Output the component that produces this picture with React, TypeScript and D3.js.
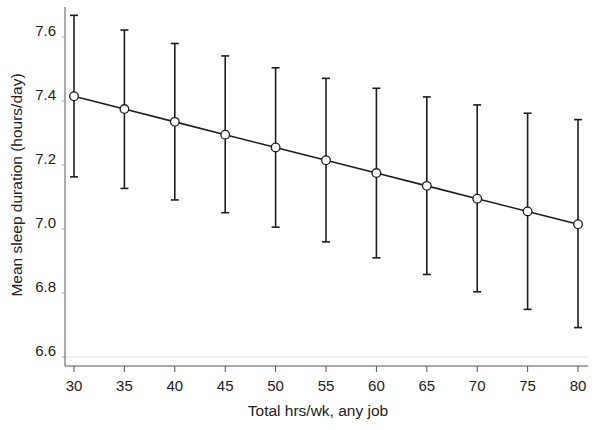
import React from "react";
import * as d3 from "d3";

const hours = [30, 35, 40, 45, 50, 55, 60, 65, 70, 75, 80];
const meanSleep = [7.415, 7.375, 7.335, 7.295, 7.255, 7.215, 7.175, 7.135, 7.095, 7.055, 7.015];
const ciLower = [7.163, 7.127, 7.091, 7.051, 7.006, 6.960, 6.910, 6.858, 6.804, 6.749, 6.692];
const ciUpper = [7.668, 7.622, 7.580, 7.541, 7.504, 7.471, 7.440, 7.413, 7.388, 7.362, 7.342];
const yTicks = [6.6, 6.8, 7.0, 7.2, 7.4, 7.6];
const xTicks = [30, 35, 40, 45, 50, 55, 60, 65, 70, 75, 80];

const W = 601;
const H = 430;

export default function App() {
  const x = d3.scaleLinear().domain([29.107, 80.99]).range([65, 588]);
  const y = d3.scaleLinear().domain([6.572, 7.694]).range([366, 7]);
  const pts = hours.map((h, i) => ({ h, m: meanSleep[i], lo: ciLower[i], hi: ciUpper[i] }));
  const line = d3
    .line<{ h: number; m: number }>()
    .x((d) => x(d.h))
    .y((d) => y(d.m));
  const font = "'Liberation Sans', Arial, sans-serif";
  const ink = "#1e1e1e";
  return (
    <svg
      width={W}
      height={H}
      style={{ position: "absolute", left: 0, top: 0, background: "#fff" }}
      fontFamily={font}
    >
      <rect x={0} y={0} width={W} height={H} fill="#fff" />
      <line x1={65} x2={588} y1={y(6.6)} y2={y(6.6)} stroke="#e4e4e4" strokeWidth={1} />
      <line x1={65} x2={65} y1={7} y2={366} stroke="#555" strokeWidth={1} />
      <line x1={65} x2={588} y1={366} y2={366} stroke="#555" strokeWidth={1} />
      {yTicks.map((t) => (
        <g key={"y" + t}>
          <line x1={62} x2={65} y1={y(t)} y2={y(t)} stroke="#aaa" strokeWidth={1} />
          <text x={56} y={y(t)} dy="-0.05em" textAnchor="end" fontSize={15} fill="#222">
            {t.toFixed(1)}
          </text>
        </g>
      ))}
      {xTicks.map((t) => (
        <g key={"x" + t}>
          <line x1={x(t)} x2={x(t)} y1={366} y2={372} stroke="#555" strokeWidth={1} />
          <text x={x(t)} y={391} textAnchor="middle" fontSize={15} fill="#222">
            {t}
          </text>
        </g>
      ))}
      <text x={318} y={416} textAnchor="middle" fontSize={15.5} fill="#222">
        Total hrs/wk, any job
      </text>
      <text
        transform={`translate(22,185) rotate(-90)`}
        textAnchor="middle"
        fontSize={15.5}
        fill="#222"
      >
        Mean sleep duration (hours/day)
      </text>
      {pts.map((d) => (
        <g key={"e" + d.h} stroke={ink} strokeWidth={1.6}>
          <line x1={x(d.h)} x2={x(d.h)} y1={y(d.lo)} y2={y(d.hi)} />
          <line x1={x(d.h) - 4} x2={x(d.h) + 4} y1={y(d.lo)} y2={y(d.lo)} />
          <line x1={x(d.h) - 4} x2={x(d.h) + 4} y1={y(d.hi)} y2={y(d.hi)} />
        </g>
      ))}
      <path d={line(pts) || ""} fill="none" stroke={ink} strokeWidth={1.6} />
      {pts.map((d) => (
        <circle key={"c" + d.h} cx={x(d.h)} cy={y(d.m)} r={4.3} fill="#fff" stroke={ink} strokeWidth={1.3} />
      ))}
    </svg>
  );
}
